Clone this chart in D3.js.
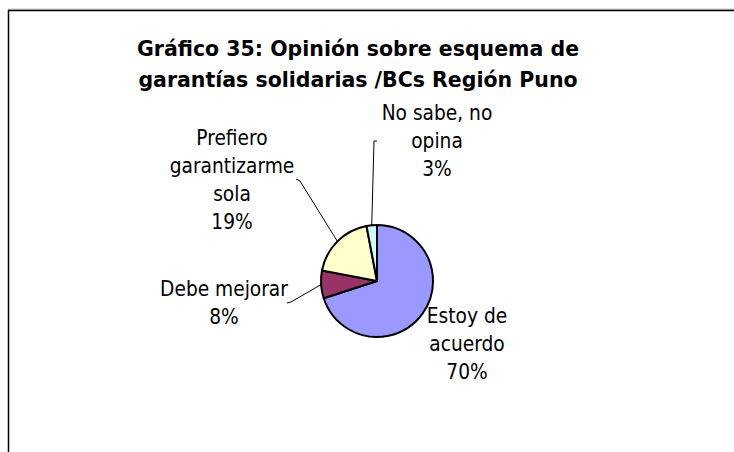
<!DOCTYPE html>
<html>
<head>
<meta charset="utf-8">
<script src="https://cdn.jsdelivr.net/npm/d3@7/dist/d3.min.js"></script>
<style>
  html, body { margin: 0; padding: 0; background: #fff; }
  svg { display: block; }
  text { font-family: "DejaVu Sans Condensed", "DejaVu Sans", sans-serif; fill: #000; }
  text.title { font-family: "DejaVu Sans", sans-serif; }
</style>
</head>
<body>
<svg id="chart" width="734" height="452"></svg>
<script>
// Survey answers (share of respondents, %)
const categories = ["Estoy de acuerdo", "Debe mejorar", "Prefiero garantizarme sola", "No sabe, no opina"];
const values = [70, 8, 19, 3];
const colors = ["#9999FF", "#993366", "#FFFFCC", "#CCFFFF"];
// Label text, one entry per line
const labelLines = [
  ["Estoy de", "acuerdo"],
  ["Debe mejorar"],
  ["Prefiero", "garantizarme", "sola"],
  ["No sabe, no", "opina"]
];
const titleLines = ["Gráfico 35: Opinión sobre esquema de", "garantías solidarias /BCs Región Puno"];

const svg = d3.select("#chart");

// Chart frame (continues past the right and bottom edges)
svg.append("line").attr("x1", 8).attr("x2", 734).attr("y1", 9.2).attr("y2", 9.2)
  .attr("stroke", "#aaa").attr("stroke-width", 1);
svg.append("rect").attr("x", 8.5).attr("y", 10.5).attr("width", 800).attr("height", 500)
  .attr("fill", "none").attr("stroke", "#000").attr("stroke-width", 1.5);

// Title
svg.append("g").selectAll("text").data(titleLines).join("text")
  .attr("class", "title")
  .attr("x", 358).attr("y", (d, i) => 56 + i * 31)
  .attr("text-anchor", "middle")
  .attr("font-size", 20.5).attr("font-weight", "bold")
  .text(d => d);

// Pie
const cx = 377, cy = 281, r = 56;
const pie = d3.pie().sort(null).value(d => d)(values);
const arc = d3.arc().innerRadius(0).outerRadius(r);
const g = svg.append("g").attr("transform", `translate(${cx},${cy})`);
g.selectAll("path").data(pie).join("path")
  .attr("d", arc)
  .attr("fill", (d, i) => colors[i])
  .attr("stroke", "#000").attr("stroke-width", 2).attr("stroke-linejoin", "round");

// Label blocks: centre x, first baseline
const labelPos = [
  { x: 467, y: 323 },
  { x: 224, y: 296 },
  { x: 232, y: 145 },
  { x: 437, y: 120 }
];
const lineH = 28;

const fmt = v => Math.round(v) + "%";
const labels = svg.append("g");
pie.forEach((p, i) => {
  const lines = labelLines[i].concat([fmt(values[i])]);
  labels.append("g").selectAll("text").data(lines).join("text")
    .attr("x", labelPos[i].x)
    .attr("y", (d, k) => labelPos[i].y + k * lineH)
    .attr("text-anchor", "middle")
    .attr("font-size", 20.7)
    .text(d => d);
});

// Leader lines from the label to the middle of each slice's rim
const leaderStart = [null, [[287, 303], [291, 302]], [[296, 179], [300, 181]], [[377, 141], [374, 141]]];
const rimPoint = p => {
  const a = (p.startAngle + p.endAngle) / 2;
  return [cx + r * Math.sin(a), cy - r * Math.cos(a)];
};
pie.forEach((p, i) => {
  if (!leaderStart[i]) return;
  const pts = leaderStart[i].concat([rimPoint(p)]);
  svg.append("path")
    .attr("d", d3.line()(pts))
    .attr("fill", "none").attr("stroke", "#000").attr("stroke-width", 1);
});
</script>
</body>
</html>
